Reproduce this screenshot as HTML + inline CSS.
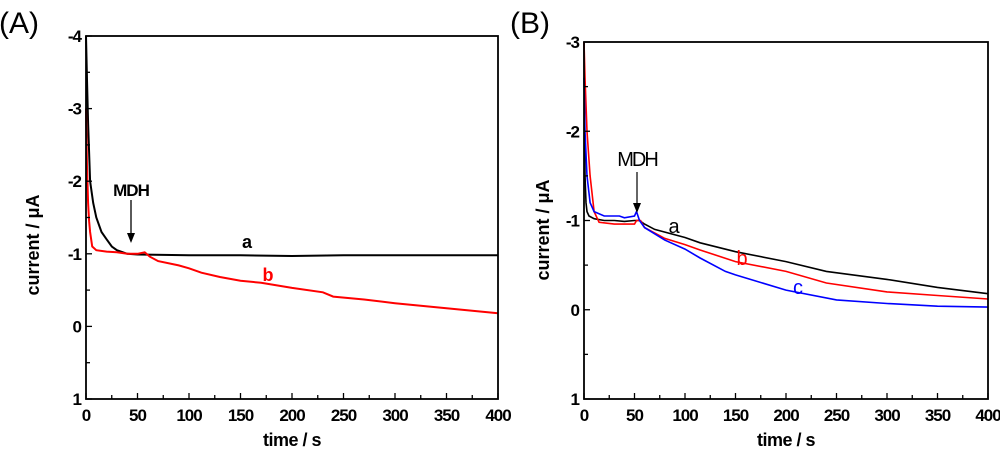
<!DOCTYPE html>
<html><head><meta charset="utf-8"><style>
body{margin:0;background:#fff;}
svg{display:block;font-family:"Liberation Sans",Arial,sans-serif;}
</style></head><body>
<svg id="c" width="1000" height="452" viewBox="0 0 1000 452"></svg>
<script>
const tA=[0,1,2,4,7,10,15,20,25,30,40,50,100,150,200,250,300,350,400];
const vAa=[-4,-3.4,-2.8,-2.0,-1.7,-1.5,-1.3,-1.2,-1.1,-1.05,-1.0,-0.99,-0.98,-0.98,-0.97,-0.98,-0.98,-0.98,-0.98];
const tAb=[0,1,2,3,4,6,10,20,30,40,50,57,62,70,90,100,112,130,150,170,200,230,240,270,300,350,400];
const vAb=[-3,-2.2,-1.7,-1.45,-1.3,-1.1,-1.05,-1.03,-1.02,-1.0,-1.0,-1.02,-0.96,-0.9,-0.84,-0.8,-0.74,-0.68,-0.63,-0.6,-0.53,-0.47,-0.41,-0.37,-0.32,-0.25,-0.18];
const tBa=[0,0.5,1,2,3,5,10,20,30,40,50,55,60,70,100,115,150,200,240,300,350,400];
const vBa=[-3,-2.2,-1.5,-1.2,-1.1,-1.05,-1.02,-1.0,-1.0,-0.99,-1.0,-1.0,-0.96,-0.9,-0.81,-0.75,-0.65,-0.54,-0.43,-0.34,-0.25,-0.18];
const tBb=[0,1,3,6,10,15,30,50,52,56,60,80,100,115,150,200,240,300,350,400];
const vBb=[-3,-2.6,-2,-1.5,-1.1,-0.98,-0.96,-0.96,-1.0,-1.0,-0.92,-0.8,-0.73,-0.67,-0.54,-0.43,-0.3,-0.2,-0.16,-0.12];
const tBc=[0,1,3,6,10,20,35,40,50,52,55,60,80,100,115,140,150,200,250,300,350,400];
const vBc=[-2.6,-2,-1.5,-1.2,-1.1,-1.05,-1.05,-1.03,-1.05,-1.1,-1.0,-0.92,-0.78,-0.68,-0.58,-0.43,-0.39,-0.22,-0.11,-0.07,-0.04,-0.03];
const xTicks=[0,50,100,150,200,250,300,350,400];
const yTicksA=[-4,-3,-2,-1,0,1];
const yTicksB=[-3,-2,-1,0,1];

const svg=document.getElementById('c');
const NS='http://www.w3.org/2000/svg';
function el(tag,attrs,parent){const e=document.createElementNS(NS,tag);for(const k in attrs)e.setAttribute(k,attrs[k]);(parent||svg).appendChild(e);return e;}
function txt(s,attrs,parent){const e=el('text',attrs,parent);e.textContent=s;return e;}

function panel(cfg){
  const g=el('g',{});
  
  
  const X=t=>cfg.x0+(t-0)/400*(cfg.x1-cfg.x0);
  const Y=v=>cfg.y0+(v-cfg.ymin)/(cfg.ymax-cfg.ymin)*(cfg.y1-cfg.y0);
  cfg.series.forEach(s=>{
    const d=s.t.map((t,i)=>(i?'L':'M')+X(t).toFixed(1)+','+Y(s.v[i]).toFixed(1)).join('');
    const p=el('path',{d:d,fill:'none',stroke:s.color,'stroke-width':cfg.sw},g);
    
    
  });
  const f=el('rect',{x:cfg.x0,y:cfg.y0,width:cfg.x1-cfg.x0,height:cfg.y1-cfg.y0,fill:'none',stroke:'#000','stroke-width':1.8},g);
  
  
  for(let t=0;t<=400;t+=25){
    const major=t%50===0;
    el('line',{x1:X(t),x2:X(t),y1:cfg.y1,y2:cfg.y1-(major?6:4),stroke:'#000','stroke-width':1.3},g);
  }
  xTicks.forEach(t=>{
    const l=txt(String(t),{x:X(t),y:cfg.y1+22,'text-anchor':'middle','font-size':17,'font-weight':'bold','letter-spacing':'-1'},g);
    
    
  });
  const yt=cfg.yticks;
  for(let i=0;i<yt.length;i++){
    el('line',{x1:cfg.x0,x2:cfg.x0+6,y1:Y(yt[i]),y2:Y(yt[i]),stroke:'#000','stroke-width':1.3},g);
    if(i<yt.length-1){const m=(yt[i]+yt[i+1])/2;el('line',{x1:cfg.x0,x2:cfg.x0+4,y1:Y(m),y2:Y(m),stroke:'#000','stroke-width':1.3},g);}
    const l=txt(String(yt[i]),{x:cfg.x0-5,y:Y(yt[i])+6,'text-anchor':'end','font-size':17,'font-weight':'bold','letter-spacing':'-1'},g);
    
    
  }
  const xt=txt('time / s',{x:(cfg.x0+cfg.x1)/2,y:cfg.y1+47,'text-anchor':'middle','font-size':18,'font-weight':'bold','letter-spacing':'-0.5'},g);
  
  
  const yx=cfg.ylx, yy=cfg.yly;
  const ytl=txt('current / μA',{x:yx,y:yy,'text-anchor':'middle','font-size':18,'font-weight':'bold',transform:'rotate(-90 '+yx+' '+yy+')'},g);
  
  
  const pl=txt(cfg.label,{x:cfg.lx,y:33,'font-size':30},g);
  
  
  return {g,X,Y};
}

const A=panel({name:'panel-a',x0:86,x1:498,y0:36,y1:399,ymin:-4,ymax:1,yticks:yTicksA,ylx:39,yly:245,lx:-1,label:'(A)',sw:2,
  series:[{name:'curve-a',t:tA,v:vAa,color:'#000'},{name:'curve-b',t:tAb,v:vAb,color:'#f00'}]});
const B=panel({name:'panel-b',x0:584,x1:988,y0:42,y1:399,ymin:-3,ymax:1,yticks:yTicksB,ylx:549,yly:230,lx:510,label:'(B)',sw:1.6,
  series:[{name:'curve-a',t:tBa,v:vBa,color:'#000'},{name:'curve-b',t:tBb,v:vBb,color:'#f00'},{name:'curve-c',t:tBc,v:vBc,color:'#00f'}]});

let e;
e=txt('MDH',{x:131,y:196,'text-anchor':'middle','font-size':17,'font-weight':'bold','letter-spacing':'-1'},A.g);


el('line',{x1:131,x2:131,y1:200,y2:236,stroke:'#000','stroke-width':1.3},A.g);
el('path',{d:'M127,233 L131,243 L135,233 Z',fill:'#000'},A.g);
e=txt('a',{x:247,y:248,'text-anchor':'middle','font-size':18,'font-weight':'bold'},A.g);


e=txt('b',{x:268,y:281,'text-anchor':'middle','font-size':18,'font-weight':'bold',fill:'#f00'},A.g);


e=txt('MDH',{x:637,y:166,'text-anchor':'middle','font-size':20,'letter-spacing':'-2'},B.g);


el('line',{x1:637,x2:637,y1:172,y2:206,stroke:'#000','stroke-width':1.2},B.g);
el('path',{d:'M633,203 L637,213 L641,203 Z',fill:'#000'},B.g);
e=txt('a',{x:674,y:233,'text-anchor':'middle','font-size':20},B.g);


e=txt('b',{x:742,y:265,'text-anchor':'middle','font-size':20,fill:'#f00'},B.g);


e=txt('c',{x:798,y:294,'text-anchor':'middle','font-size':20,fill:'#00f'},B.g);


</script>
</body></html>
